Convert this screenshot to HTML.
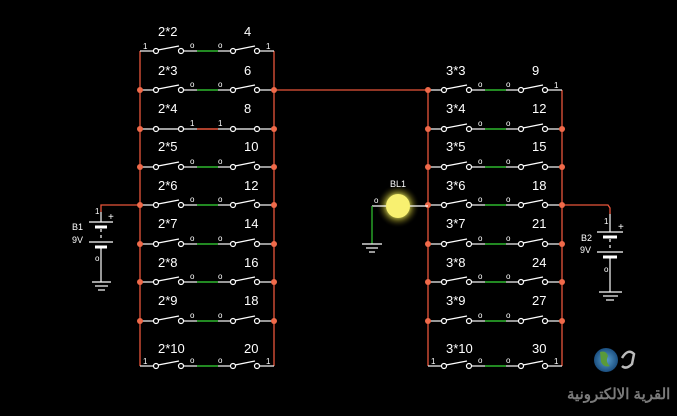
<!DOCTYPE html>
<html><head><meta charset="utf-8"><style>
html,body{margin:0;padding:0;background:#000;width:677px;height:416px;overflow:hidden}
svg{display:block}
text{font-family:"Liberation Sans",sans-serif;fill:#fff}
.l{font-size:13px}
.s{font-size:8px}
</style></head><body>
<svg width="677" height="416" viewBox="0 0 677 416" xmlns="http://www.w3.org/2000/svg">
<defs>
<g id="sw" stroke="#fff" stroke-width="1.2" fill="none">
<line x1="0" y1="0" x2="13.5" y2="0"/>
<circle cx="16" cy="0" r="2.5"/>
<line x1="18" y1="-1" x2="39" y2="-5"/>
<circle cx="41" cy="0" r="2.5"/>
<line x1="43.5" y1="0" x2="57" y2="0"/>
<line x1="57" y1="0" x2="78" y2="0" stroke="#2db82d" stroke-width="1.6"/>
<line x1="78" y1="0" x2="90.5" y2="0"/>
<circle cx="93" cy="0" r="2.5"/>
<line x1="95" y1="-1" x2="115" y2="-5"/>
<circle cx="117" cy="0" r="2.5"/>
<line x1="119.5" y1="0" x2="134" y2="0"/>
<text x="50" y="-3" class="s" stroke="none" style="fill:#fff">o</text>
<text x="78" y="-3" class="s" stroke="none" style="fill:#fff">o</text>
</g>
<g id="swc" stroke="#fff" stroke-width="1.2" fill="none">
<line x1="0" y1="0" x2="13.5" y2="0"/>
<circle cx="16" cy="0" r="2.5"/>
<line x1="18.5" y1="0" x2="38.5" y2="0"/>
<circle cx="41" cy="0" r="2.5"/>
<line x1="43.5" y1="0" x2="57" y2="0"/>
<line x1="57" y1="0" x2="78" y2="0" stroke="#e8553a" stroke-width="1.6"/>
<line x1="78" y1="0" x2="90.5" y2="0"/>
<circle cx="93" cy="0" r="2.5"/>
<line x1="95.5" y1="0" x2="114.5" y2="0"/>
<circle cx="117" cy="0" r="2.5"/>
<line x1="119.5" y1="0" x2="134" y2="0"/>
<text x="50" y="-3" class="s" stroke="none" style="fill:#fff">1</text>
<text x="78" y="-3" class="s" stroke="none" style="fill:#fff">1</text>
</g>
<radialGradient id="glow"><stop offset="0" stop-color="#ffffa0"/><stop offset="0.45" stop-color="#f0f060" stop-opacity="0.9"/><stop offset="0.7" stop-color="#807a20" stop-opacity="0.5"/><stop offset="1" stop-color="#000" stop-opacity="0"/></radialGradient>
<radialGradient id="globe"><stop offset="0" stop-color="#5aa0d0"/><stop offset="1" stop-color="#1b4f80"/></radialGradient>
</defs>

<!-- left rails -->
<g stroke="#e8553a" stroke-width="1.3">
<line x1="140" y1="51" x2="140" y2="366"/>
<line x1="274" y1="51" x2="274" y2="366"/>
<line x1="428" y1="90" x2="428" y2="366"/>
<line x1="562" y1="90" x2="562" y2="366"/>
<line x1="274" y1="90" x2="428" y2="90"/>
<polyline points="140,205 101,205 101,212" fill="none"/>
<polyline points="562,205 608,205 610,208 610,214" fill="none"/>
</g>

<!-- left switches -->
<use href="#sw" x="140" y="51"/>
<use href="#sw" x="140" y="90"/>
<use href="#swc" x="140" y="129"/>
<use href="#sw" x="140" y="167"/>
<use href="#sw" x="140" y="205"/>
<use href="#sw" x="140" y="244"/>
<use href="#sw" x="140" y="282"/>
<use href="#sw" x="140" y="321"/>
<use href="#sw" x="140" y="366"/>
<!-- right switches -->
<use href="#sw" x="428" y="90"/>
<use href="#sw" x="428" y="129"/>
<use href="#sw" x="428" y="167"/>
<use href="#sw" x="428" y="205"/>
<use href="#sw" x="428" y="244"/>
<use href="#sw" x="428" y="282"/>
<use href="#sw" x="428" y="321"/>
<use href="#sw" x="428" y="366"/>

<g fill="#f06a4a">
<circle cx="140" cy="90" r="3"/><circle cx="274" cy="90" r="3"/>
<circle cx="140" cy="129" r="3"/><circle cx="274" cy="129" r="3"/>
<circle cx="140" cy="167" r="3"/><circle cx="274" cy="167" r="3"/>
<circle cx="140" cy="205" r="3"/><circle cx="274" cy="205" r="3"/>
<circle cx="140" cy="244" r="3"/><circle cx="274" cy="244" r="3"/>
<circle cx="140" cy="282" r="3"/><circle cx="274" cy="282" r="3"/>
<circle cx="140" cy="321" r="3"/><circle cx="274" cy="321" r="3"/>
<circle cx="428" cy="90" r="3"/>
<circle cx="428" cy="129" r="3"/><circle cx="562" cy="129" r="3"/>
<circle cx="428" cy="167" r="3"/><circle cx="562" cy="167" r="3"/>
<circle cx="428" cy="205" r="3"/><circle cx="562" cy="205" r="3"/>
<circle cx="428" cy="244" r="3"/><circle cx="562" cy="244" r="3"/>
<circle cx="428" cy="282" r="3"/><circle cx="562" cy="282" r="3"/>
<circle cx="428" cy="321" r="3"/><circle cx="562" cy="321" r="3"/>
</g>

<g class="s">
<text x="143" y="49">1</text><text x="266" y="49">1</text>
<text x="143" y="364">1</text><text x="266" y="364">1</text>
<text x="554" y="88">1</text>
<text x="431" y="364">1</text><text x="554" y="364">1</text>
</g>

<!-- labels left -->
<g class="l">
<text x="158" y="36">2*2</text><text x="244" y="36">4</text>
<text x="158" y="75">2*3</text><text x="244" y="75">6</text>
<text x="158" y="113">2*4</text><text x="244" y="113">8</text>
<text x="158" y="151">2*5</text><text x="244" y="151">10</text>
<text x="158" y="190">2*6</text><text x="244" y="190">12</text>
<text x="158" y="228">2*7</text><text x="244" y="228">14</text>
<text x="158" y="267">2*8</text><text x="244" y="267">16</text>
<text x="158" y="305">2*9</text><text x="244" y="305">18</text>
<text x="158" y="353">2*10</text><text x="244" y="353">20</text>

<text x="446" y="75">3*3</text><text x="532" y="75">9</text>
<text x="446" y="113">3*4</text><text x="532" y="113">12</text>
<text x="446" y="151">3*5</text><text x="532" y="151">15</text>
<text x="446" y="190">3*6</text><text x="532" y="190">18</text>
<text x="446" y="228">3*7</text><text x="532" y="228">21</text>
<text x="446" y="267">3*8</text><text x="532" y="267">24</text>
<text x="446" y="305">3*9</text><text x="532" y="305">27</text>
<text x="446" y="353">3*10</text><text x="532" y="353">30</text>
</g>

<!-- battery B1 -->
<g stroke="#fff" stroke-width="1.2">
<line x1="101" y1="212" x2="101" y2="222"/>
<line x1="89" y1="222" x2="113" y2="222"/>
<line x1="95" y1="227" x2="107" y2="227" stroke-width="3"/>
<line x1="101" y1="229" x2="101" y2="240" stroke-dasharray="3,3"/>
<line x1="89" y1="242" x2="113" y2="242"/>
<line x1="95" y1="247" x2="107" y2="247" stroke-width="3"/>
<line x1="101" y1="248" x2="101" y2="282"/>
<line x1="92" y1="282" x2="111" y2="282"/>
<line x1="95" y1="286" x2="108" y2="286"/>
<line x1="98" y1="290" x2="105" y2="290"/>
</g>
<g class="s"><text x="95" y="214">1</text><text x="108" y="220" style="font-size:10px">+</text><text x="95" y="261">o</text></g>
<text x="72" y="230" class="s" style="font-size:9px">B1</text>
<text x="72" y="243" class="s" style="font-size:9px">9V</text>

<!-- battery B2 -->
<g stroke="#fff" stroke-width="1.2">
<line x1="610" y1="214" x2="610" y2="232"/>
<line x1="597" y1="232" x2="623" y2="232"/>
<line x1="603" y1="237" x2="617" y2="237" stroke-width="3"/>
<line x1="610" y1="239" x2="610" y2="250" stroke-dasharray="3,3"/>
<line x1="597" y1="252" x2="623" y2="252"/>
<line x1="603" y1="257" x2="617" y2="257" stroke-width="3"/>
<line x1="610" y1="258" x2="610" y2="292"/>
<line x1="599" y1="292" x2="622" y2="292"/>
<line x1="603" y1="296" x2="618" y2="296"/>
<line x1="606" y1="300" x2="614" y2="300"/>
</g>
<g class="s"><text x="604" y="224">1</text><text x="618" y="230" style="font-size:10px">+</text><text x="604" y="272">o</text></g>
<text x="581" y="241" class="s" style="font-size:9px">B2</text>
<text x="580" y="253" class="s" style="font-size:9px">9V</text>

<!-- lamp -->
<circle cx="398" cy="206" r="22" fill="url(#glow)"/>
<line x1="372" y1="206" x2="428" y2="206" stroke="#fff" stroke-width="1.2"/>
<circle cx="398" cy="206" r="12" fill="#f8f070"/>
<line x1="372" y1="206" x2="372" y2="244" stroke="#2db82d" stroke-width="1.3"/>
<g stroke="#fff" stroke-width="1.2">
<line x1="362" y1="244" x2="382" y2="244"/>
<line x1="366" y1="248" x2="378" y2="248"/>
<line x1="369" y1="252" x2="375" y2="252"/>
</g>
<text x="374" y="203" class="s">o</text>
<text x="390" y="187" class="s" style="font-size:9px">BL1</text>

<!-- logo -->
<circle cx="606" cy="360" r="12" fill="url(#globe)"/>
<path d="M600 352 q6 -2 8 4 q-3 6 2 10 q-6 2 -9 -4z" fill="#5a9a3a"/>
<path d="M622 358 q6 -10 12 -4 l-2 10 q-6 6 -10 2" fill="none" stroke="#bbb" stroke-width="2.5"/>
<text x="567" y="399" style="font-family:'Liberation Sans','Noto Sans CJK SC',sans-serif;font-size:15px;font-weight:bold;fill:#7a7a7a">القرية الالكترونية</text>
</svg>
</body></html>
